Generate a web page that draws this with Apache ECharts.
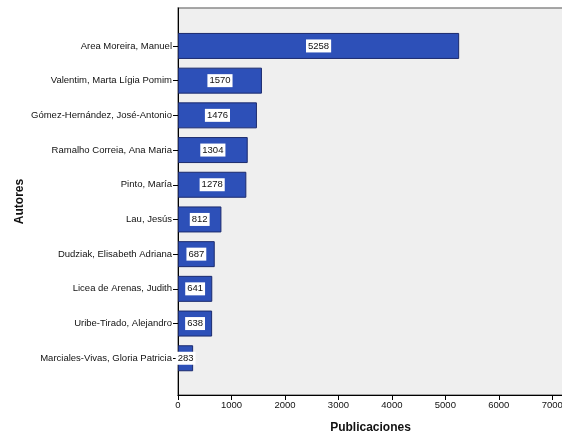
<!DOCTYPE html>
<html>
<head>
<meta charset="utf-8">
<script src="https://cdn.jsdelivr.net/npm/echarts@6/dist/echarts.min.js"></script>
<style>
  html, body { margin: 0; padding: 0; background: #ffffff; }
  #chart { width: 562px; height: 436px; }
</style>
</head>
<body>
<div id="chart"></div>
<script>
// Authors and number of publications
const authors = [
  'Area Moreira, Manuel',
  'Valentim, Marta Lígia Pomim',
  'Gómez-Hernández, José-Antonio',
  'Ramalho Correia, Ana Maria',
  'Pinto, María',
  'Lau, Jesús',
  'Dudziak, Elisabeth Adriana',
  'Licea de Arenas, Judith',
  'Uribe-Tirado, Alejandro',
  'Marciales-Vivas, Gloria Patricia'
];
const publications = [5258, 1570, 1476, 1304, 1278, 812, 687, 641, 638, 283];
const xTicks = [0, 1000, 2000, 3000, 4000, 5000, 6000, 7000];

const FONT = '"Liberation Sans", Arial, sans-serif';
const X_MAX = 7200;
const PLOT_LEFT = 178;
const PLOT_WIDTH = 385;   // 0..7200 across the plot

const chart = echarts.init(document.getElementById('chart'), null, { renderer: 'canvas' });

chart.setOption({
  animation: false,
  backgroundColor: '#ffffff',
  grid: [
    // Frame of the plot area, carries the value axis
    { left: PLOT_LEFT, top: 8, width: PLOT_WIDTH, height: 387, show: true,
      outerBoundsMode: 'none', containLabel: false,
      backgroundColor: '#efefef', borderColor: '#8a8a8a', borderWidth: 1.5 },
    // Bars
    { left: PLOT_LEFT, top: 28.6, width: PLOT_WIDTH, height: 347,
      outerBoundsMode: 'none', containLabel: false }
  ],
  xAxis: [
    { type: 'value', gridIndex: 0, min: 0, max: X_MAX, interval: 1000,
      name: 'Publicaciones', nameLocation: 'middle', nameGap: 27,
      nameTextStyle: { fontFamily: FONT, fontSize: 12, fontWeight: 'bold', color: '#111' },
      axisLine: { show: true, lineStyle: { color: '#000', width: 1 } },
      axisTick: { show: true, length: 5, lineStyle: { color: '#000' } },
      axisLabel: { fontFamily: FONT, fontSize: 9.5, color: '#111', margin: 5,
        showMaxLabel: false,
        formatter: v => (xTicks.indexOf(v) >= 0 ? String(v) : '') },
      splitLine: { show: false } },
    { type: 'value', gridIndex: 1, min: 0, max: X_MAX, show: false }
  ],
  yAxis: [
    { type: 'value', gridIndex: 0, min: 0, max: 1,
      name: 'Autores', nameLocation: 'middle', nameGap: 152, nameRotate: 90,
      nameTextStyle: { fontFamily: FONT, fontSize: 12, fontWeight: 'bold', color: '#111' },
      axisLine: { show: true, lineStyle: { color: '#000', width: 1 } },
      axisTick: { show: false }, axisLabel: { show: false }, splitLine: { show: false } },
    { type: 'category', gridIndex: 1, data: authors, inverse: true,
      axisLine: { show: false },
      axisTick: { show: true, alignWithLabel: true, length: 5, lineStyle: { color: '#000' } },
      axisLabel: { fontFamily: FONT, fontSize: 9.5, color: '#111', margin: 6 } }
  ],
  series: [{
    type: 'bar',
    xAxisIndex: 1,
    yAxisIndex: 1,
    data: publications,
    barWidth: 26,
    itemStyle: { color: '#2d50b8', borderColor: '#1b2a6e', borderWidth: 1 },
    label: {
      show: true, position: 'inside',
      fontFamily: FONT, fontSize: 9.5, color: '#111',
      backgroundColor: '#ffffff', padding: [2, 2, 1, 2]
    }
  }]
});
</script>
</body>
</html>
